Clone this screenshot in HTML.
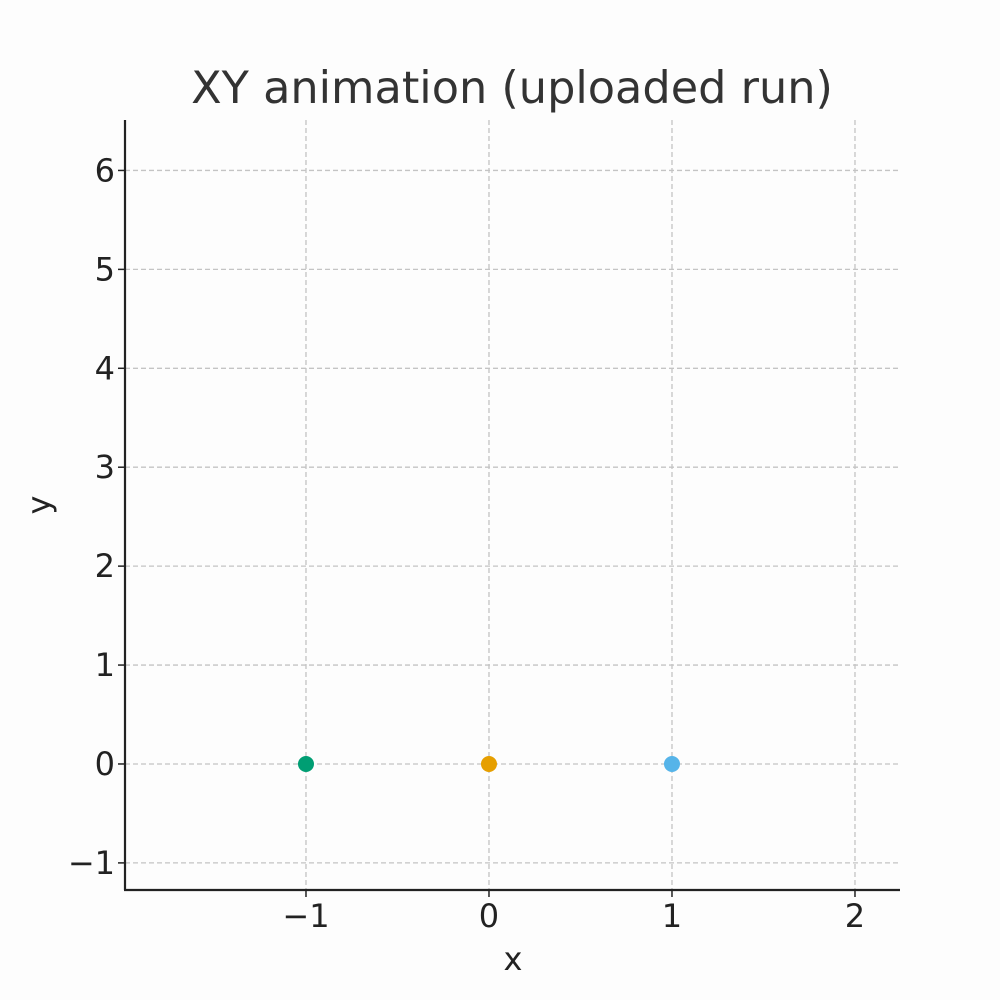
<!DOCTYPE html>
<html><head><meta charset="utf-8"><style>
html,body{margin:0;padding:0;background:#fff;}
svg{display:block;font-family:"DejaVu Sans","Liberation Sans",sans-serif;}
</style></head><body>
<svg id="chart" width="1000" height="1000" viewBox="0 0 1000 1000">
<rect width="1000" height="1000" fill="#fdfdfd"/>
<g id="grid"></g>
<g id="ticks"></g>
<g id="points"></g>
<line x1="125" y1="120" x2="125" y2="890" stroke="#222" stroke-width="2.2"/>
<line x1="124" y1="890" x2="900" y2="890" stroke="#222" stroke-width="2.2"/>
<text x="512" y="103" text-anchor="middle" font-size="44.6" fill="#333">XY animation (uploaded run)</text>
<text x="513" y="970" text-anchor="middle" font-size="32" fill="#222">x</text>
<text x="50" y="505" text-anchor="middle" font-size="32" fill="#222" transform="rotate(-90 50 505)">y</text>
</svg>
<script>
const xTicks=[-1,0,1,2];
const yTicks=[-1,0,1,2,3,4,5,6];
const pointX=[-1,0,1];
const pointY=[0,0,0];
const pointColors=["#009E73","#E69F00","#56B4E9"];
const xMin=-1.989,xMax=2.246,yMin=-1.274,yMax=6.51;
const L=125,R=900,T=120,B=890;
const sx=v=>L+(v-xMin)/(xMax-xMin)*(R-L);
const sy=v=>B-(v-yMin)/(yMax-yMin)*(B-T);
const NS="http://www.w3.org/2000/svg";
const grid=document.getElementById('grid'),ticks=document.getElementById('ticks'),pts=document.getElementById('points');
function mk(tag,attrs){const e=document.createElementNS(NS,tag);for(const k in attrs)e.setAttribute(k,attrs[k]);return e;}
const fmt=v=>v<0?"\u2212"+Math.abs(v):String(v);
xTicks.forEach(v=>{const x=sx(v);
 const g=mk('line',{x1:x,x2:x,y1:T,y2:B,stroke:'#c4c4c4','stroke-width':1.3,'stroke-dasharray':'5,3'});
 
 
 grid.appendChild(g);
 const t=mk('line',{x1:x,x2:x,y1:B,y2:B+7,stroke:'#222','stroke-width':1.5});
 
 
 ticks.appendChild(t);
 const l=mk('text',{x:x,y:B+37,'text-anchor':'middle','font-size':32,fill:'#222'});
 l.textContent=fmt(v);
 
 
 ticks.appendChild(l);
});
yTicks.forEach(v=>{const y=sy(v);
 const g=mk('line',{x1:L,x2:R,y1:y,y2:y,stroke:'#c4c4c4','stroke-width':1.3,'stroke-dasharray':'5,3'});
 
 
 grid.appendChild(g);
 const t=mk('line',{x1:L-7,x2:L,y1:y,y2:y,stroke:'#222','stroke-width':1.5});
 
 
 ticks.appendChild(t);
 const l=mk('text',{x:L-10,y:y+11,'text-anchor':'end','font-size':32,fill:'#222'});
 l.textContent=fmt(v);
 
 
 ticks.appendChild(l);
});
pointX.forEach((v,i)=>{
 const c=mk('circle',{cx:sx(v),cy:sy(pointY[i]),r:8,fill:pointColors[i]});
 
 
 pts.appendChild(c);
});
</script>
</body></html>
